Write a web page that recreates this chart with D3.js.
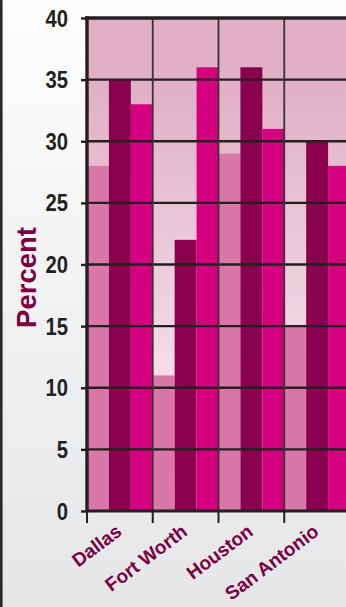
<!DOCTYPE html>
<html>
<head>
<meta charset="utf-8">
<script src="https://cdn.jsdelivr.net/npm/d3@7"></script>
<style>
  html, body { margin: 0; padding: 0; background: #fff; }
  svg { display: block; }
  text { font-family: "Liberation Sans", Arial, Helvetica, sans-serif; font-weight: bold; }
</style>
</head>
<body>
<svg id="chart" width="346" height="607"></svg>
<script>
// Cities along the x axis
const cities = ["Dallas", "Fort Worth", "Houston", "San Antonio"];
// Three series per city (percent)
const seriesKeys = ["series1", "series2", "series3"];
const series1 = [28, 11, 29, 15];
const series2 = [35, 22, 36, 30];
const series3 = [33, 36, 31, 28];
const yTicks = [0, 5, 10, 15, 20, 25, 30, 35, 40];
const yTitle = "Percent";

const seriesColors = ["#d977a6", "#8a004e", "#d5007f"];
const ink = "#241f21";
const labelColor = "#7a0042";

const W = 346, H = 607;
const plot = { left: 87, top: 18, bottom: 511, right: 350 };

const svg = d3.select("#chart");
const defs = svg.append("defs");

// page background: near-white at top fading to light grey
const bg = defs.append("linearGradient").attr("id", "bgGrad")
  .attr("x1", 0).attr("y1", 0).attr("x2", 0).attr("y2", 1);
bg.append("stop").attr("offset", "0%").attr("stop-color", "#fdfdfd");
bg.append("stop").attr("offset", "100%").attr("stop-color", "#e5e6e8");

// plot background: pink at top fading to pale pink at the baseline
const pg = defs.append("linearGradient").attr("id", "plotGrad")
  .attr("x1", 0).attr("y1", 0).attr("x2", 0).attr("y2", 1);
pg.append("stop").attr("offset", "0%").attr("stop-color", "#e0aec5");
pg.append("stop").attr("offset", "15%").attr("stop-color", "#e1b1c6");
pg.append("stop").attr("offset", "100%").attr("stop-color", "#fcf4f8");

svg.append("rect").attr("width", W).attr("height", H).attr("fill", "url(#bgGrad)");
// frame line on the left edge
svg.append("line").attr("x1", 1.3).attr("x2", 1.3).attr("y1", 0).attr("y2", H)
  .attr("stroke", "#2a2a2a").attr("stroke-width", 2.6);

const x = d3.scaleBand().domain(cities).range([plot.left, plot.right]).paddingInner(0).paddingOuter(0);
const xs = d3.scaleBand().domain(seriesKeys).range([0, x.bandwidth()]).padding(0);
const y = d3.scaleLinear().domain([0, 40]).range([plot.bottom, plot.top]);

svg.append("rect")
  .attr("x", plot.left).attr("y", plot.top)
  .attr("width", plot.right - plot.left).attr("height", plot.bottom - plot.top)
  .attr("fill", "url(#plotGrad)");

// bars
const rows = cities.map((c, i) => ({
  city: c,
  values: [series1[i], series2[i], series3[i]].map((v, k) => ({ key: seriesKeys[k], value: v }))
}));

const groups = svg.append("g").selectAll("g").data(rows).join("g")
  .attr("transform", d => `translate(${x(d.city)},0)`);
groups.selectAll("rect").data(d => d.values).join("rect")
  .attr("x", d => xs(d.key))
  .attr("width", xs.bandwidth())
  .attr("y", d => y(d.value))
  .attr("height", d => y(0) - y(d.value))
  .attr("fill", (d, k) => seriesColors[k]);

// horizontal gridlines (drawn over the bars)
svg.append("g").selectAll("line").data(yTicks.filter(t => t > 0 && t < 40)).join("line")
  .attr("x1", plot.left).attr("x2", W + 10)
  .attr("y1", d => y(d)).attr("y2", d => y(d))
  .attr("stroke", ink).attr("stroke-width", 2.3);

// vertical gridlines between cities
const bounds = cities.slice(1).map(c => x(c));
svg.append("g").selectAll("line").data(bounds).join("line")
  .attr("x1", d => d).attr("x2", d => d)
  .attr("y1", plot.top).attr("y2", plot.bottom)
  .attr("stroke", "#3a3436").attr("stroke-width", 1.8);

// top frame
svg.append("line").attr("x1", plot.left - 2).attr("x2", W + 10)
  .attr("y1", plot.top).attr("y2", plot.top)
  .attr("stroke", ink).attr("stroke-width", 3.6);

// y axis
const yAxis = d3.axisLeft(y).tickValues(yTicks).tickSize(6).tickFormat("");
const ya = svg.append("g").attr("transform", `translate(${plot.left},0)`).call(yAxis);
ya.select(".domain").remove();
ya.selectAll(".tick line").attr("stroke", ink).attr("stroke-width", 2.4);
svg.append("line").attr("x1", plot.left).attr("x2", plot.left)
  .attr("y1", plot.top - 1.8).attr("y2", plot.bottom + 1.5)
  .attr("stroke", ink).attr("stroke-width", 3.4);

// y tick labels
svg.append("g").selectAll("text").data(yTicks).join("text")
  .attr("transform", d => `translate(68,${y(d) + 8.5}) scale(0.88,1)`)
  .attr("text-anchor", "end")
  .attr("font-size", 23)
  .attr("fill", ink)
  .text(d => d);

// x axis
const xAxis = d3.axisBottom(x).tickSize(0).tickFormat("");
const xa = svg.append("g").attr("transform", `translate(0,${plot.bottom})`).call(xAxis);
xa.select(".domain").remove();
svg.append("line").attr("x1", plot.left).attr("x2", W + 10)
  .attr("y1", plot.bottom).attr("y2", plot.bottom)
  .attr("stroke", ink).attr("stroke-width", 3.2);
svg.append("g").selectAll("line").data(cities.map(c => x(c))).join("line")
  .attr("x1", d => d).attr("x2", d => d)
  .attr("y1", plot.bottom).attr("y2", plot.bottom + 12)
  .attr("stroke", ink).attr("stroke-width", 2);

// x labels, rotated
svg.append("g").selectAll("text").data(cities).join("text")
  .attr("transform", d => `translate(${x(d) + x.bandwidth() / 2 + 3},534) rotate(-37)`)
  .attr("text-anchor", "end")
  .attr("font-size", 19)
  .attr("fill", labelColor)
  .text(d => d);

// y title
svg.append("text")
  .attr("transform", "translate(36,277.5) rotate(-90)")
  .attr("text-anchor", "middle")
  .attr("font-size", 27.5)
  .attr("fill", labelColor)
  .text(yTitle);
</script>
</body>
</html>
